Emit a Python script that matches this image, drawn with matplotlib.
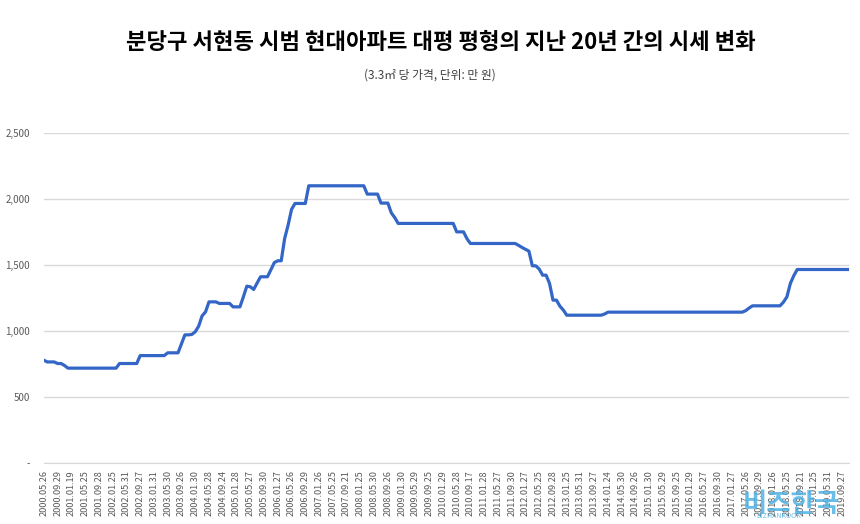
import matplotlib
matplotlib.use('Agg')
import matplotlib.pyplot as plt
from matplotlib.ticker import FuncFormatter

plt.rcParams['font.family'] = ['Noto Sans CJK KR', 'DejaVu Sans']

# monthly price per 3.3m2 (10k won), 2000.05 ~ 2019.11
y2000 = [780, 767, 767, 767, 755, 755, 740, 720]
y2001 = [720] * 12
y2002 = [720, 720, 755, 755, 755, 755, 755, 755, 815, 815, 815, 815]
y2003 = [815, 815, 815, 815, 836, 836, 836, 836, 905, 972, 972, 975]
y2004 = [995, 1038, 1116, 1146, 1222, 1222, 1222, 1210, 1210, 1210, 1210, 1184]
y2005 = [1184, 1184, 1260, 1341, 1336, 1316, 1365, 1412, 1412, 1412, 1465, 1520]
y2006 = [1533, 1533, 1702, 1803, 1922, 1967, 1967, 1967, 1967, 2101, 2101, 2101]
y2007 = [2101] * 12
y2008 = [2101, 2101, 2038, 2038, 2038, 2038, 1970, 1970, 1970, 1896, 1860, 1816]
y2009 = [1816] * 12
y2010 = [1816, 1816, 1816, 1816, 1752, 1752, 1752, 1700, 1664, 1664, 1664, 1664]
y2011 = [1664] * 10 + [1650, 1634]
y2012 = [1620, 1606, 1495, 1495, 1470, 1424, 1424, 1361, 1235, 1235, 1190, 1160]
y2013 = [1121] * 11 + [1130]
y2014 = [1144] * 12
y2015 = [1144] * 12
y2016 = [1144] * 12
y2017 = [1144, 1144, 1144, 1144, 1155, 1175, 1192, 1192, 1192, 1192, 1192, 1192]
y2018 = [1192, 1192, 1192, 1220, 1260, 1361, 1420, 1467, 1467, 1467, 1467, 1467]
y2019 = [1467] * 11

prices = (y2000 + y2001 + y2002 + y2003 + y2004 + y2005 + y2006 + y2007 + y2008 + y2009
          + y2010 + y2011 + y2012 + y2013 + y2014 + y2015 + y2016 + y2017 + y2018 + y2019)

tick_labels = [
    '2000.05.26', '2000.09.29', '2001.01.19', '2001.05.25', '2001.09.28', '2002.01.25',
    '2002.05.31', '2002.09.27', '2003.01.31', '2003.05.30', '2003.09.26', '2004.01.30',
    '2004.05.28', '2004.09.24', '2005.01.28', '2005.05.27', '2005.09.30', '2006.01.27',
    '2006.05.26', '2006.09.29', '2007.01.26', '2007.05.25', '2007.09.21', '2008.01.25',
    '2008.05.30', '2008.09.26', '2009.01.30', '2009.05.29', '2009.09.25', '2010.01.29',
    '2010.05.28', '2010.09.17', '2011.01.28', '2011.05.27', '2011.09.30', '2012.01.27',
    '2012.05.25', '2012.09.28', '2013.01.25', '2013.05.31', '2013.09.27', '2014.01.24',
    '2014.05.30', '2014.09.26', '2015.01.30', '2015.05.29', '2015.09.25', '2016.01.29',
    '2016.05.27', '2016.09.30', '2017.01.27', '2017.05.26', '2017.09.29', '2018.01.26',
    '2018.05.25', '2018.09.21', '2019.01.25', '2019.05.31', '2019.09.27',
]

fig = plt.figure(figsize=(8.6, 5.24), dpi=100)
ax = fig.add_axes([0.051, 0.116, 0.936, 0.630])

ax.plot(range(len(prices)), prices, color='#3366c6', linewidth=2.3, solid_joinstyle='round')

ax.set_xlim(0, len(prices) - 1)
ax.set_ylim(0, 2500)
ax.set_yticks([0, 500, 1000, 1500, 2000, 2500])
ax.yaxis.set_major_formatter(FuncFormatter(lambda v, p: '-' if v == 0 else f'{int(v):,}'))
ax.set_xticks(range(0, len(tick_labels) * 4, 4))
ax.set_xticklabels(tick_labels, rotation=90)

ax.grid(axis='y', color='#d9d9d9', linewidth=1)
ax.set_axisbelow(True)
for s in ['top', 'right', 'left']:
    ax.spines[s].set_visible(False)
ax.spines['bottom'].set_color('#d9d9d9')
ax.tick_params(axis='both', length=0, colors='#595959')
ax.tick_params(axis='y', labelsize=7, pad=10)
ax.tick_params(axis='x', labelsize=6.6, pad=5)

fig.text(0.513, 0.918, '분당구 서현동 시범 현대아파트 대평 평형의 지난 20년 간의 시세 변화',
         ha='center', va='center', fontsize=16, fontweight='bold', color='#000000')
fig.text(0.5, 0.857, '(3.3㎡ 당 가격, 단위: 만 원)', ha='center', va='center',
         fontsize=8.5, color='#404040')

# watermark
fig.text(0.92, 0.012, '비즈한국', ha='center', va='bottom', fontsize=19, fontweight='bold',
         color='#4fb3e6', alpha=0.85)
fig.text(0.905, 0.008, 'BIZHANKOOK', ha='center', va='bottom', fontsize=5, color='#4fb3e6',
         alpha=0.85)

fig.savefig('out.png', dpi=100)
